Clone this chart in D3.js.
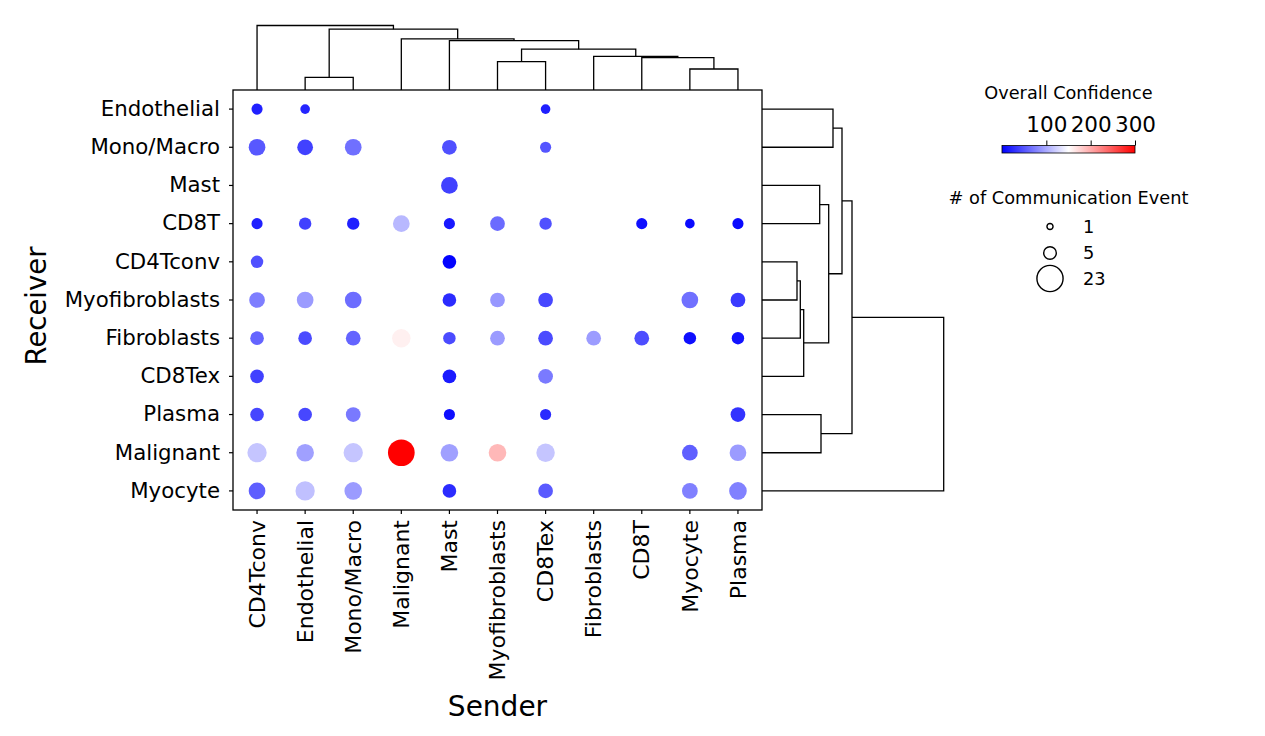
<!DOCTYPE html>
<html><head><meta charset="utf-8">
<script src="https://cdn.jsdelivr.net/npm/d3@7"></script>
<style>body{margin:0;background:#fff;} text{font-family:"DejaVu Sans",sans-serif;fill:#000;}</style>
</head><body><svg id="c" width="1265" height="736"></svg>
<script>
// ---------- data ----------
const senders = ["CD4Tconv","Endothelial","Mono/Macro","Malignant","Mast","Myofibroblasts","CD8Tex","Fibroblasts","CD8T","Myocyte","Plasma"];
const receivers = ["Endothelial","Mono/Macro","Mast","CD8T","CD4Tconv","Myofibroblasts","Fibroblasts","CD8Tex","Plasma","Malignant","Myocyte"];
// # of communication events (0 = no dot); rows = receivers, cols = senders
const counts = [
  [4, 3, 0, 0, 0, 0, 3, 0, 0, 0, 0],
  [9, 8, 9, 0, 7, 0, 4, 0, 0, 0, 0],
  [0, 0, 0, 0, 9, 0, 0, 0, 0, 0, 0],
  [4, 5, 5, 9, 4, 7, 5, 0, 4, 3, 4],
  [5, 0, 0, 0, 6, 0, 0, 0, 0, 0, 0],
  [8, 9, 9, 0, 6, 7, 7, 0, 0, 9, 7],
  [6, 6, 7,11, 5, 7, 7, 7, 7, 5, 5],
  [6, 0, 0, 0, 6, 0, 7, 0, 0, 0, 0],
  [6, 6, 7, 0, 4, 0, 4, 0, 0, 0, 7],
  [12,10,12,23,10,10,11, 0, 0, 8, 9],
  [9,12,10, 0, 6, 0, 7, 0, 0, 8,10]
];
// overall confidence
const confidence = [
  [19, 22,  0,   0,  0,   0,  19,  0,  0,  0,  0],
  [52, 38, 66,   0, 47,   0,  50,  0,  0,  0,  0],
  [ 0,  0,  0,   0, 38,   0,   0,  0,  0,  0,  0],
  [19, 38, 19, 108, 14,  63,  47,  0,  9,  6,  5],
  [47,  0,  0,   0,  2,   0,   0,  0,  0,  0,  0],
  [74, 91, 64,   0, 25,  89,  42,  0,  0, 66, 34],
  [59, 44, 59, 159, 44,  91,  44, 92, 45,  9, 11],
  [38,  0,  0,   0, 15,   0,  72,  0,  0,  0,  0],
  [41, 42, 71,   0,  8,   0,  24,  0,  0,  0, 30],
  [116,94,116, 300, 94, 192, 116,  0,  0, 56, 91],
  [56,113, 91,   0, 25,   0,  53,  0,  0, 75, 76]
];
// dendrogram linkages [childA, childB, height]; ids >= 11 refer to earlier merges
const topLinkage = [
  [1, 2, 12.7], [9, 10, 21], [5, 6, 28.4], [8, 12, 32.4], [7, 14, 33.7],
  [13, 15, 40.8], [4, 16, 49.4], [3, 17, 51.1], [11, 18, 60.8], [0, 19, 64.5]
];
const rightLinkage = [
  [4, 5, 35], [11, 6, 38.3], [12, 7, 41.7], [2, 3, 57.7], [8, 9, 59],
  [14, 13, 66.7], [0, 1, 71], [17, 16, 80], [18, 15, 90], [19, 10, 181.7]
];
const colorTicks = [100, 200, 300];
const colorDomain = [0, 150, 300];
const sizeLegendValues = [1, 5, 23];

// ---------- layout ----------
const svg = d3.select("#c");
const X0 = 233, X1 = 762, Y0 = 90, Y1 = 510;
const x = d3.scaleBand().domain(senders).range([X0, X1]);
const y = d3.scaleBand().domain(receivers).range([Y0, Y1]);
const cx = d => x(d) + x.bandwidth() / 2;
const cy = d => y(d) + y.bandwidth() / 2;
const color = d3.scaleLinear().domain(colorDomain).range(["#0000ff", "#ffffff", "#ff0000"]);
const size = d3.scaleSqrt().domain([0, 23]).range([0, 13.35]);

// dots
const cells = [];
receivers.forEach((r, i) => senders.forEach((s, j) => {
  if (counts[i][j] > 0) cells.push({r, s, n: counts[i][j], v: confidence[i][j]});
}));
svg.append("g").selectAll("circle").data(cells).join("circle")
  .attr("cx", d => cx(d.s)).attr("cy", d => cy(d.r))
  .attr("r", d => size(d.n)).attr("fill", d => color(d.v));

// frame
svg.append("rect").attr("x", X0).attr("y", Y0).attr("width", X1 - X0).attr("height", Y1 - Y0)
  .attr("fill", "none").attr("stroke", "#000").attr("stroke-width", 1.3);

// axes
const yAxis = svg.append("g").attr("transform", `translate(${X0},0)`)
  .call(d3.axisLeft(y).tickSize(4).tickPadding(9).tickSizeOuter(0).tickFormat(d => d));
yAxis.select(".domain").remove();
yAxis.selectAll("line").attr("stroke-width", 1.2);
yAxis.selectAll("text").attr("font-size", "21.3px").attr("font-family", "DejaVu Sans");

const xAxis = svg.append("g").attr("transform", `translate(0,${Y1})`)
  .call(d3.axisBottom(x).tickSize(4).tickPadding(9).tickSizeOuter(0));
xAxis.select(".domain").remove();
xAxis.selectAll("line").attr("stroke-width", 1.2);
xAxis.selectAll("text").attr("font-size", "22px").attr("font-family", "DejaVu Sans")
  .attr("transform", "rotate(-90)").attr("text-anchor", "end")
  .attr("x", -10).attr("y", 0).attr("dy", "0.35em");

svg.append("text").attr("x", (X0 + X1) / 2).attr("y", 716).attr("text-anchor", "middle")
  .attr("font-size", "28px").text("Sender");
svg.append("text").attr("transform", `translate(46,306) rotate(-90)`)
  .attr("text-anchor", "middle").attr("font-size", "27.5px").text("Receiver");

// dendrograms
function dendro(linkage, n, leafPos, hScale, orient) {
  const pos = [], hgt = [];
  for (let i = 0; i < n; i++) { pos[i] = leafPos(i); hgt[i] = 0; }
  const paths = [];
  linkage.forEach(([a, b, h], k) => {
    const id = n + k;
    pos[id] = (pos[a] + pos[b]) / 2; hgt[id] = h;
    if (orient === "top")
      paths.push(`M${pos[a]},${hScale(hgt[a])}V${hScale(h)}H${pos[b]}V${hScale(hgt[b])}`);
    else
      paths.push(`M${hScale(hgt[a])},${pos[a]}H${hScale(h)}V${pos[b]}H${hScale(hgt[b])}`);
  });
  svg.append("g").selectAll("path").data(paths).join("path").attr("d", d => d)
    .attr("fill", "none").attr("stroke", "#000").attr("stroke-width", 1.3);
}
const topH = d3.scaleLinear().domain([0, 64.5]).range([Y0, Y0 - 64.5]);
dendro(topLinkage, senders.length, i => cx(senders[i]), topH, "top");
const rightH = d3.scaleLinear().domain([0, 181.7]).range([X1, X1 + 181.7]);
dendro(rightLinkage, receivers.length, i => cy(receivers[i]), rightH, "right");

// colorbar legend
const CB0 = 1002, CB1 = 1135, CBY = 145.5, CBH = 7.5;
const cbScale = d3.scaleLinear().domain([colorDomain[0], colorDomain[2]]).range([CB0, CB1]);
const grad = svg.append("defs").append("linearGradient").attr("id", "cbg");
d3.range(0, 1.0001, 0.1).forEach(t => grad.append("stop").attr("offset", t)
  .attr("stop-color", color(colorDomain[0] + t * (colorDomain[2] - colorDomain[0]))));
svg.append("text").attr("x", 1068.5).attr("y", 99).attr("text-anchor", "middle")
  .attr("font-size", "17.7px").text("Overall Confidence");
svg.append("rect").attr("x", CB0).attr("y", CBY).attr("width", CB1 - CB0).attr("height", CBH)
  .attr("fill", "url(#cbg)").attr("stroke", "#000").attr("stroke-width", 0.8);
const cbAxis = svg.append("g").attr("transform", `translate(0,${CBY})`)
  .call(d3.axisTop(cbScale).tickValues(colorTicks).tickSize(5).tickPadding(9).tickSizeOuter(0));
cbAxis.select(".domain").remove();
cbAxis.selectAll("text").attr("font-size", "21.5px").attr("font-family", "DejaVu Sans");

// size legend
svg.append("text").attr("x", 1068.5).attr("y", 204).attr("text-anchor", "middle")
  .attr("font-size", "17.8px").text("# of Communication Event");
const sizeY = [226.5, 253, 278.5];
const sl = svg.append("g").selectAll("g").data(sizeLegendValues).join("g")
  .attr("transform", (d, i) => `translate(1050,${sizeY[i]})`);
sl.append("circle").attr("r", d => size(d) * 0.95 + 0.4).attr("fill", "none")
  .attr("stroke", "#000").attr("stroke-width", 1.4);
sl.append("text").attr("x", 33).attr("dy", "0.35em").attr("font-size", "17.8px").text(d => d);
</script></body></html>
